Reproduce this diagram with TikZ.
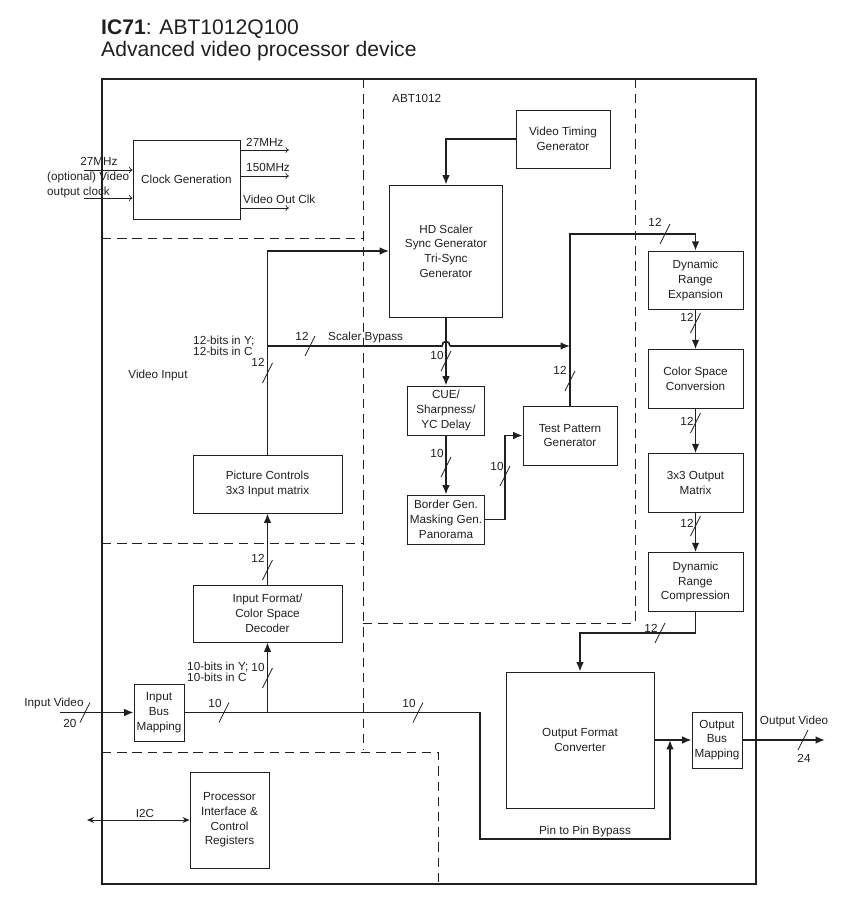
\documentclass[tikz,border=0pt]{standalone}
\usepackage{fontspec}
\setmainfont{Liberation Sans}
\usetikzlibrary{positioning, arrows.meta, calc}
\definecolor{icline}{HTML}{231F20}

% bus width mark: name, slash centre, width text, text position
\newcommand{\busw}[4]{%
  \coordinate (#1) at (#2);
  \draw[buswire] ($(#1)+(-5,10)$) -- ($(#1)+(5,-10)$);
  \node[lbl] (#1t) at (#4) {#3};}

\begin{document}
\begin{tikzpicture}[x=0.03cm, y=-0.03cm, font=\fontsize{10}{12.6}\selectfont,
    blk/.style={draw=icline, line width=0.7pt, align=center, inner sep=1pt, text=icline},
    lbl/.style={inner sep=0pt, text=icline},
    sig/.style={draw=icline, line width=1.4pt},
    sigarr/.style={sig, -{Latex[length=8pt,width=6.5pt]}},
    clkarr/.style={draw=icline, line width=0.6pt, -{To[length=3pt,width=5pt]}},
    i2carr/.style={draw=icline, line width=0.7pt, {Stealth[length=6pt,width=5pt]}-{Stealth[length=6pt,width=5pt]}},
    zone/.style={draw=icline, line width=0.7pt, dash pattern=on 8pt off 5pt},
    buswire/.style={draw=icline, line width=0.6pt}]
  \useasboundingbox (0,0) rectangle (842,899);

  % title
  \node[lbl, anchor=base west] (ttl1) at (101,35) {\fontsize{18}{20}\selectfont\textbf{IC71}: ABT1012Q100};
  \node[lbl, anchor=base west] (ttl2) at (101,57) {\fontsize{18}{20}\selectfont Advanced video processor device};

  % device outline and zones
  \draw[icline, line width=1.3pt] (102,79) rectangle (756,884);
  \draw[zone] (363,79) -- (363,750);
  \draw[zone] (102,238) -- (363,238);
  \draw[zone] (102,543) -- (363,543);
  \draw[zone] (363,623) -- (635,623) -- (635,79);
  \draw[zone] (102,752) -- (438,752) -- (438,887);
  \node[lbl, anchor=west] (abt) at (392,98) {ABT1012};

  % blocks
  \node[blk, minimum width=3.21cm, minimum height=2.37cm] (clk) at (186.5,179.5) {Clock Generation};
  \node[blk, minimum width=2.82cm, minimum height=1.74cm] (vtg) at (563,139) {Video Timing\\Generator};
  \node[blk, minimum width=3.39cm, minimum height=3.96cm] (hds) at (446,251) {HD Scaler\\Sync Generator\\Tri-Sync\\Generator};
  \node[blk, minimum width=2.31cm, minimum height=1.47cm] (cue) at (446,410.5) {CUE/\\Sharpness/\\YC Delay};
  \node[blk, minimum width=2.31cm, minimum height=1.47cm] (bgen) at (446,519.5) {Border Gen.\\Masking Gen.\\Panorama};
  \node[blk, minimum width=2.82cm, minimum height=1.77cm] (tpg) at (570,435.5) {Test Pattern\\Generator};
  \node[blk, minimum width=2.85cm, minimum height=1.76cm] (dre) at (695.5,280.5) {Dynamic\\Range\\Expansion};
  \node[blk, minimum width=2.85cm, minimum height=1.76cm] (csc) at (695.5,379) {Color Space\\Conversion};
  \node[blk, minimum width=2.85cm, minimum height=1.76cm] (oxm) at (695.5,483) {3x3 Output\\Matrix};
  \node[blk, minimum width=2.85cm, minimum height=1.76cm] (drc) at (695.5,582) {Dynamic\\Range\\Compression};
  \node[blk, minimum width=4.44cm, minimum height=4.08cm] (ofc) at (580,740) {Output Format\\Converter};
  \node[blk, minimum width=1.5cm, minimum height=1.68cm] (obm) at (717,740) {Output\\Bus\\Mapping};
  \node[blk, minimum width=1.5cm, minimum height=1.71cm] (ibm) at (159,712.5) {Input\\Bus\\Mapping};
  \node[blk, minimum width=4.47cm, minimum height=1.71cm] (ifc) at (267.5,613.5) {Input Format/\\Color Space\\Decoder};
  \node[blk, minimum width=4.47cm, minimum height=1.74cm] (pic) at (267.5,484) {Picture Controls\\3x3 Input matrix};
  \node[blk, minimum width=2.37cm, minimum height=2.88cm] (pif) at (229.5,820) {Processor\\Interface \&\\Control\\Registers};

  % clock
  \coordinate (ck1) at (84,170);
  \coordinate (ck2) at (84,198);
  \coordinate (co1) at (289,150);
  \coordinate (co2) at (289,176);
  \coordinate (co3) at (289,208);
  \draw[clkarr] (ck1) -- (ck1 -| clk.west);
  \draw[clkarr] (ck2) -- (ck2 -| clk.west);
  \draw[clkarr] (clk.east |- co1) -- (co1);
  \draw[clkarr] (clk.east |- co2) -- (co2);
  \draw[clkarr] (clk.east |- co3) -- (co3);
  \node[lbl] (f27in) at (99,161) {27MHz};
  \node[lbl, align=left, anchor=west] (optclk) at (47,185) {(optional) Video\\output clock};
  \node[lbl, anchor=west] (f27) at (246,142) {27MHz};
  \node[lbl, anchor=west] (f150) at (246,167) {150MHz};
  \node[lbl, anchor=west] (voc) at (243,199) {Video Out Clk};

  % helper points
  \coordinate (byp) at (267.5,346);
  \coordinate (hop) at (446,346);
  \coordinate (tpgtop) at (570,234);
  \coordinate (bgenr) at (505,519.5);
  \coordinate (drcdn) at (695.5,633);
  \coordinate (vin) at (60,712.5);
  \coordinate (split) at (267.5,712.5);
  \coordinate (pinr) at (480,712.5);
  \coordinate (pinb) at (480,839);
  \coordinate (pinl) at (670,839);
  \coordinate (pinup) at (670,740);
  \coordinate (vout) at (825,740);
  \coordinate (i2c) at (87,820);

  % video path
  \draw[sigarr] (vtg.west) -| (hds.north);
  \draw[sigarr] (pic.north) |- (hds.west);
  \draw[sig] (byp) -- ($(hop)+(-4,0)$) .. controls ($(hop)+(-4,-6)$) and ($(hop)+(4,-6)$) .. ($(hop)+(4,0)$);
  \draw[sigarr] ($(hop)+(4,0)$) -- (tpgtop |- byp);
  \draw[sigarr] (hds.south) -- (cue.north);
  \draw[sigarr] (cue.south) -- (bgen.north);
  \draw[sigarr] (bgen.east) -- (bgenr) |- (tpg.west);
  \draw[sigarr] (tpg.north) -- (tpgtop) -| (dre.north);
  \draw[sigarr] (dre) -- (csc);
  \draw[sigarr] (csc) -- (oxm);
  \draw[sigarr] (oxm) -- (drc);
  \draw[sigarr] (drc.south) -- (drcdn) -| (ofc.north);
  \draw[sigarr] (ofc.east) -- (obm.west);
  \draw[sigarr] (obm.east) -- (vout);
  \draw[sigarr] (vin) -- (ibm.west);
  \draw[sigarr] (ibm.east) -- (pinr) -- (pinb) -- (pinl) -- (pinup);
  \draw[sigarr] (split) -- (ifc.south);
  \draw[sigarr] (ifc.north) -- (pic.south);
  \draw[i2carr] (i2c) -- (pif.west);

  % bus widths
  \busw{s1}{310,346}{12}{302,336}
  \busw{s2}{267.5,373}{12}{258,362}
  \busw{s3}{446,361}{10}{437,355}
  \busw{s4}{446,467}{10}{437,453}
  \busw{s5}{505,476}{10}{497,466}
  \busw{s6}{570,381}{12}{560,370}
  \busw{s7}{665,234}{12}{655,222}
  \busw{s8}{695.5,323}{12}{687,317}
  \busw{s9}{695.5,423}{12}{687,421}
  \busw{s10}{695.5,526}{12}{687,523}
  \busw{s11}{660,633}{12}{651,628}
  \busw{s12}{85,712.5}{20}{70,723}
  \busw{s13}{224,712.5}{10}{215,703}
  \busw{s14}{418,712.5}{10}{409,703}
  \busw{s15}{267.5,678}{10}{258,667}
  \busw{s16}{267.5,570}{12}{258,558}
  \busw{s17}{803,740}{24}{804,758}

  % signal labels
  \node[lbl] (vinp) at (158,375) {Video Input};
  \node[lbl, align=left, anchor=west, font=\fontsize{10}{9.6}\selectfont] (b12) at (193,346) {12-bits in Y;\\12-bits in C};
  \node[lbl, anchor=west] (sbp) at (328,337) {Scaler Bypass};
  \node[lbl, align=left, anchor=west, font=\fontsize{10}{9.6}\selectfont] (b10) at (187,672) {10-bits in Y;\\10-bits in C};
  \node[lbl] (pinlbl) at (585,831) {Pin to Pin Bypass};
  \node[lbl] (voutl) at (794,721) {Output Video};
  \node[lbl] (vinl) at (54,703) {Input Video};
  \node[lbl] (i2cl) at (145,813) {I2C};
\end{tikzpicture}
\end{document}
